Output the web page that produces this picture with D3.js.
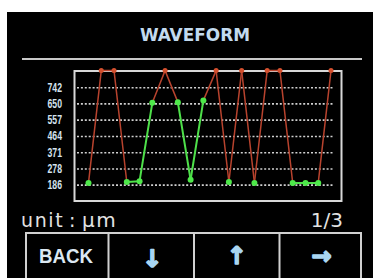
<!DOCTYPE html>
<html>
<head>
<meta charset="utf-8">
<script src="https://cdn.jsdelivr.net/npm/d3@7"></script>
<style>
  html, body { margin: 0; padding: 0; background: #fff; }
  svg { display: block; }
</style>
</head>
<body>
<div id="chart"></div>
<script>
// data
const pointIndex = [1, 2, 3, 4, 5, 6, 7, 8, 9, 10, 11, 12, 13, 14, 15, 16, 17, 18, 19, 20];
const pointValues = [196, 837, 837, 201, 206, 653, 837, 657, 214, 667, 837, 201, 837, 196, 837, 837, 196, 196, 196, 837];
const tickValues = [186, 278, 371, 464, 557, 650, 742];
const upperLimit = 742;
const buttonLabels = ["BACK", "↓", "↑", "→"];
const titleText = "WAVEFORM";
const unitParts = ["unit", ":", "µm"];
const pageText = "1/3";

const W = 373, H = 278;

const svg = d3.select("#chart").append("svg")
  .attr("width", W)
  .attr("height", H);

// screen background (photo has white edge top/left)
svg.append("rect").attr("x", 7).attr("y", 12).attr("width", W - 7).attr("height", H - 12).attr("fill", "#000");

// title
svg.append("text")
  .attr("x", 195).attr("y", 40.5)
  .attr("text-anchor", "middle")
  .attr("font-family", "DejaVu Sans Condensed, DejaVu Sans, sans-serif")
  .attr("font-weight", "bold")
  .attr("font-size", 18.5)
  .attr("textLength", 110)
  .attr("lengthAdjust", "spacingAndGlyphs")
  .attr("fill", "#c2daef")
  .text(titleText);

svg.append("line")
  .attr("x1", 22).attr("x2", 362).attr("y1", 59).attr("y2", 59)
  .attr("stroke", "#c8c8c8").attr("stroke-width", 2);

// plot box
const box = { left: 74.5, right: 341.5, top: 71, bottom: 201 };

const x = d3.scaleLinear()
  .domain([1, 20])
  .range([88.5, 331]);

const y = d3.scaleLinear()
  .domain([92.75, 834.75])
  .range([box.bottom, box.top]);

svg.append("rect")
  .attr("x", box.left).attr("y", box.top)
  .attr("width", box.right - box.left).attr("height", box.bottom - box.top)
  .attr("fill", "none").attr("stroke", "#d8d8d8").attr("stroke-width", 2);

// dotted grid
const grid = svg.append("g")
  .attr("transform", "translate(77,0)")
  .call(d3.axisLeft(y).tickValues(tickValues).tickSize(-257).tickFormat(""));
grid.select(".domain").remove();
grid.selectAll("line")
  .attr("stroke", "#d0d0d0")
  .attr("stroke-width", 1.6)
  .attr("stroke-dasharray", "2,1.9");

// tick labels
const yAxis = svg.append("g")
  .attr("transform", "translate(62,0)")
  .call(d3.axisLeft(y).tickValues(tickValues).tickSize(0).tickPadding(0).tickFormat(d3.format("d")));
yAxis.select(".domain").remove();
yAxis.selectAll("text")
  .attr("font-family", "Liberation Sans Narrow, Arial Narrow, sans-serif")
  .attr("font-weight", "bold")
  .attr("font-size", 12)
  .attr("textLength", 14.5)
  .attr("lengthAdjust", "spacingAndGlyphs")
  .attr("fill", "#d4e2ee");

// waveform
const pts = pointIndex.map((d, i) => ({ i: d, v: pointValues[i], over: pointValues[i] > upperLimit }));
const segs = d3.pairs(pts);

svg.append("g").selectAll("line")
  .data(segs)
  .join("line")
  .attr("x1", d => x(d[0].i)).attr("y1", d => y(d[0].v))
  .attr("x2", d => x(d[1].i)).attr("y2", d => y(d[1].v))
  .attr("stroke", d => (d[0].over || d[1].over) ? "#b8432e" : "#4ee04a")
  .attr("stroke-width", d => (d[0].over || d[1].over) ? 1.5 : 2)
  .attr("stroke-linecap", "round");

svg.append("g").selectAll("circle")
  .data(pts)
  .join("circle")
  .attr("cx", d => x(d.i))
  .attr("cy", d => y(d.v))
  .attr("r", d => d.over ? 2.5 : 3)
  .attr("fill", d => d.over ? "#d4502e" : "#4ee84a");

// footer text
const unit = svg.append("text")
  .attr("y", 226.5)
  .attr("font-family", "DejaVu Sans, sans-serif")
  .attr("font-size", 19)
  .attr("fill", "#e2e2e2");
unit.append("tspan").attr("x", 21).attr("letter-spacing", 1.6).text(unitParts[0]);
unit.append("tspan").attr("x", 69).text(unitParts[1]);
unit.append("tspan").attr("x", 82).attr("font-size", 20).attr("letter-spacing", 1.5).text(unitParts[2]);

svg.append("text")
  .attr("x", 343).attr("y", 226.5)
  .attr("text-anchor", "end")
  .attr("font-family", "DejaVu Sans, sans-serif")
  .attr("font-size", 20)
  .attr("fill", "#e2e2e2")
  .text(pageText);

// buttons
const btnEdges = [26, 108.5, 194, 279.5, 361];
const btn = svg.append("g");
btn.append("line")
  .attr("x1", btnEdges[0]).attr("x2", btnEdges[4])
  .attr("y1", 233).attr("y2", 233)
  .attr("stroke", "#d0d0d0").attr("stroke-width", 2);
btn.selectAll(".sep")
  .data(btnEdges)
  .join("line")
  .attr("class", "sep")
  .attr("x1", d => d).attr("x2", d => d)
  .attr("y1", 232).attr("y2", H)
  .attr("stroke", "#d0d0d0").attr("stroke-width", 2);

btn.selectAll(".lbl")
  .data(buttonLabels)
  .join("text")
  .attr("class", "lbl")
  .attr("x", (d, i) => [66, 152, 236.5, 321.5][i])
  .attr("y", (d, i) => [262.5, 267, 264, 264][i])
  .attr("text-anchor", "middle")
  .attr("font-family", (d, i) => i === 0 ? "Liberation Sans, Arial, sans-serif" : "DejaVu Sans, sans-serif")
  .attr("font-weight", "bold")
  .attr("font-size", (d, i) => i === 0 ? 21 : 24)
  .attr("fill", (d, i) => i === 0 ? "#dce8f2" : "#a9d6f2")
  .attr("stroke", (d, i) => i === 0 ? "none" : "#a9d6f2")
  .attr("stroke-width", 1.6)
  .attr("stroke-linejoin", "round")
  .each(function(d, i) {
    if (i === 0) d3.select(this).attr("textLength", 54).attr("lengthAdjust", "spacingAndGlyphs");
  })
  .text(d => d);
</script>
</body>
</html>
